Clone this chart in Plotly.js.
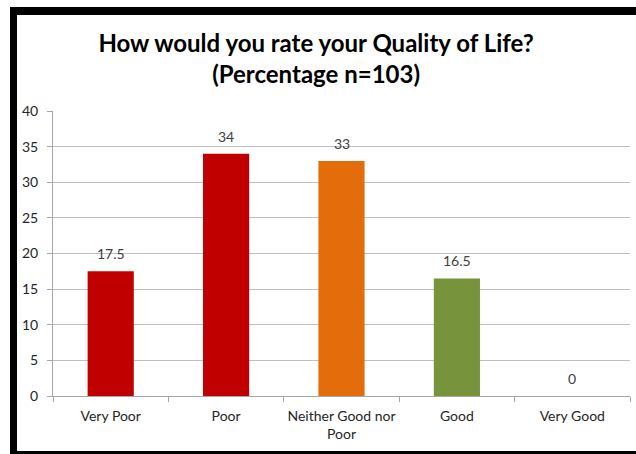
<!DOCTYPE html>
<html>
<head>
<meta charset="utf-8">
<script src="https://cdn.plot.ly/plotly-3.0.1.min.js"></script>
<style>
html,body{margin:0;padding:0;background:#fff;}
#chart{position:absolute;left:0;top:0;width:636px;height:454px;}
.bd{position:absolute;background:#000;}
</style>
</head>
<body>
<div id="chart"></div>
<div class="bd" style="left:10px;top:7px;width:626px;height:8px;"></div>
<div class="bd" style="left:10px;top:7px;width:7px;height:447px;"></div>
<div class="bd" style="left:10px;top:451px;width:626px;height:3px;"></div>
<script>
const categories = ["Very Poor", "Poor", "Neither Good nor<br>Poor", "Good", "Very Good"];
const values = [17.5, 34, 33, 16.5, 0];
const barColors = ["#C00000", "#C00000", "#E46C0A", "#77933C", "#4F81BD"];
const yTicks = [0, 5, 10, 15, 20, 25, 30, 35, 40];

const font = "Lato, 'Open Sans', sans-serif";

const trace = {
  type: "bar",
  x: categories,
  y: values,
  marker: {color: barColors, line: {width: 0}},
  hoverinfo: "none"
};

const labels = categories.map((c, i) => ({
  x: c,
  y: values[i],
  xref: "x",
  yref: "y",
  text: String(values[i]),
  showarrow: false,
  yanchor: "bottom",
  yshift: 7,
  font: {family: font, size: 14, color: "#404040"}
}));

const layout = {
  width: 636,
  height: 454,
  margin: {l: 53, r: 6, t: 111, b: 58, pad: 0},
  paper_bgcolor: "#ffffff",
  plot_bgcolor: "#ffffff",
  showlegend: false,
  bargap: 0.6,
  annotations: labels,
  title: {
    text: "<b>How would you rate your Quality of Life?<br>(Percentage n=103)</b>",
    font: {family: font, size: 24, color: "#000000"},
    x: 0.497, xanchor: "center",
    y: 0.885, yanchor: "top",
    xref: "container"
  },
  xaxis: {
    type: "category",
    showgrid: false,
    showline: true,
    linecolor: "#A6A6A6",
    linewidth: 1,
    ticks: "outside",
    tickson: "boundaries",
    ticklen: 5,
    tickcolor: "#A6A6A6",
    tickangle: 0,
    ticklabelstandoff: 7,
    tickfont: {family: font, size: 14, color: "#262626"},
    zeroline: false,
    fixedrange: true
  },
  yaxis: {
    range: [0, 40],
    tickvals: yTicks,
    ticktext: yTicks.map(String),
    showgrid: true,
    gridcolor: "#C0C0C0",
    gridwidth: 1,
    showline: true,
    linecolor: "#A6A6A6",
    ticks: "outside",
    ticklen: 5,
    tickcolor: "#A6A6A6",
    ticklabelstandoff: 6,
    tickfont: {family: font, size: 14, color: "#262626"},
    zeroline: false,
    fixedrange: true
  }
};

Plotly.newPlot("chart", [trace], layout, {displayModeBar: false, staticPlot: true});
</script>
</body>
</html>
